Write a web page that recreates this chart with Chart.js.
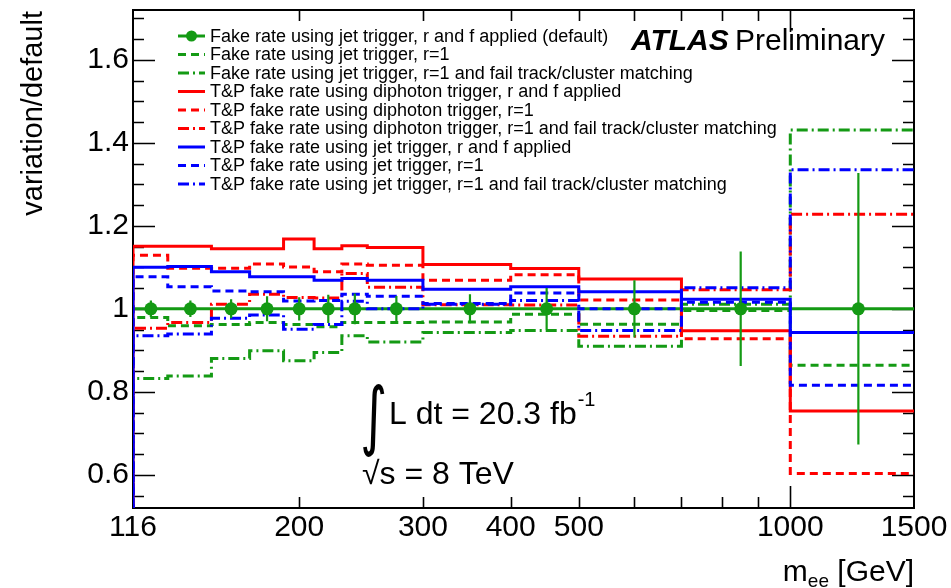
<!DOCTYPE html>
<html>
<head>
<meta charset="utf-8">
<script src="https://cdn.jsdelivr.net/npm/chart.js@4.4.1/dist/chart.umd.min.js"></script>
<style>
  html, body { margin: 0; background: #fff; }
  #wrap { width: 951px; height: 588px; position: relative; }
</style>
</head>
<body>
<div id="wrap"><canvas id="ratio"></canvas></div>
<script>
// bin edges and centres in m_ee [GeV]
const edges = [116, 130, 150, 170, 190, 210, 230, 250, 300, 400, 500, 700, 1000, 1500];
const binCenters = [123, 140, 160, 180, 200, 220, 240, 275, 350, 450, 600, 850, 1250];

// default fake rate (ratio to itself) and its uncertainty
const defaultRatio = [1, 1, 1, 1, 1, 1, 1, 1, 1, 1, 1, 1, 1];
const defaultErr = [0.02, 0.02, 0.023, 0.03, 0.028, 0.034, 0.037, 0.031, 0.035, 0.05, 0.069, 0.138, 0.327];

// variations / default
const jetR1 = [0.979, 0.959, 0.962, 0.967, 0.962, 0.957, 0.967, 0.967, 0.968, 0.987, 0.963, 0.996, 0.864];
const jetR1Fail = [0.832, 0.838, 0.880, 0.899, 0.875, 0.895, 0.935, 0.920, 0.943, 0.948, 0.910, 1.011, 1.431];
const tpDiphoton = [1.151, 1.151, 1.145, 1.145, 1.168, 1.145, 1.152, 1.148, 1.107, 1.097, 1.072, 0.947, 0.754];
const tpDiphotonR1 = [1.129, 1.098, 1.098, 1.108, 1.101, 1.089, 1.108, 1.105, 1.069, 1.082, 1.021, 0.928, 0.603];
const tpDiphotonR1Fail = [0.953, 0.967, 1.011, 1.035, 1.027, 1.026, 1.085, 1.052, 1.010, 1.009, 0.934, 1.046, 1.228];
const tpJet = [1.100, 1.102, 1.089, 1.077, 1.077, 1.069, 1.073, 1.069, 1.047, 1.053, 1.041, 1.023, 0.943];
const tpJetR1 = [1.077, 1.053, 1.043, 1.041, 1.019, 1.020, 1.035, 1.030, 1.013, 1.038, 1.000, 1.016, 0.816];
const tpJetR1Fail = [0.935, 0.939, 0.977, 0.985, 0.951, 0.962, 1.018, 1.000, 1.011, 1.020, 0.948, 1.051, 1.335];

const xTicks = [116, 200, 300, 400, 500, 1000, 1500];
const xMinorTicks = [200, 300, 400, 500, 600, 700, 800, 900];
const xMajorTicks = [1000];
const yTicks = [0.6, 0.8, 1, 1.2, 1.4, 1.6];

const legendLabels = [
  'Fake rate using jet trigger, r and f applied (default)',
  'Fake rate using jet trigger, r=1',
  'Fake rate using jet trigger, r=1 and fail track/cluster matching',
  'T&P fake rate using diphoton trigger, r and f applied',
  'T&P fake rate using diphoton trigger, r=1',
  'T&P fake rate using diphoton trigger, r=1 and fail track/cluster matching',
  'T&P fake rate using jet trigger, r and f applied',
  'T&P fake rate using jet trigger, r=1',
  'T&P fake rate using jet trigger, r=1 and fail track/cluster matching'
];

const GREEN = '#149a14', RED = '#ff0000', BLUE = '#0000ff';
const SOLID = [], DASH = [8, 5], DASHDOT = [11, 4, 2, 4];
const FONT = '"Liberation Sans", Arial, Helvetica, sans-serif';

const series = [
  { vals: jetR1, color: GREEN, dash: DASH },
  { vals: jetR1Fail, color: GREEN, dash: DASHDOT },
  { vals: tpDiphoton, color: RED, dash: SOLID },
  { vals: tpDiphotonR1, color: RED, dash: DASH },
  { vals: tpDiphotonR1Fail, color: RED, dash: DASHDOT },
  { vals: tpJet, color: BLUE, dash: SOLID },
  { vals: tpJetR1, color: BLUE, dash: DASH },
  { vals: tpJetR1Fail, color: BLUE, dash: DASHDOT }
];

// step histogram points; optional leading point below the frame like ROOT "hist"
function histPoints(vals, fromBottom) {
  const pts = fromBottom ? [{ x: edges[0], y: 0.3 }] : [];
  vals.forEach((v, i) => pts.push({ x: edges[i], y: v }));
  pts.push({ x: edges[edges.length - 1], y: vals[vals.length - 1] });
  return pts;
}

// later legend entries are drawn on top (lower order = on top in Chart.js)
const datasets = [];
datasets.push({
  label: legendLabels[0],
  data: binCenters.map((c, i) => ({ x: c, y: defaultRatio[i] })),
  showLine: false, pointRadius: 6.5, pointBackgroundColor: GREEN,
  pointBorderColor: GREEN, pointBorderWidth: 0, order: 0
});
series.forEach((s, i) => datasets.push({
  label: legendLabels[i + 1],
  data: histPoints(s.vals, true),
  borderColor: s.color, borderDash: s.dash, borderWidth: 3,
  stepped: true, pointRadius: 0, fill: false, order: 10 - i
}));
datasets.push({
  label: 'default line',
  data: histPoints(defaultRatio, false),
  borderColor: GREEN, borderWidth: 3, stepped: true, pointRadius: 0, order: 20
});

const framePlugin = {
  id: 'frame',
  beforeDatasetsDraw(chart) {
    const { ctx, chartArea: a, scales: { x, y } } = chart;
    ctx.save();
    ctx.strokeStyle = '#000';
    ctx.lineWidth = 2;
    ctx.strokeRect(a.left, a.top, a.right - a.left, a.bottom - a.top);
    ctx.lineWidth = 1.6;
    ctx.beginPath();
    for (let k = 11; k <= 34; k++) {
      const py = Math.round(y.getPixelForValue(k * 0.05)) + 0.5;
      const len = k % 4 === 0 ? 22 : 11;
      ctx.moveTo(a.left, py); ctx.lineTo(a.left + len, py);
      ctx.moveTo(a.right, py); ctx.lineTo(a.right - len, py);
    }
    const tick = (v, len) => {
      const px = Math.round(x.getPixelForValue(v)) + 0.5;
      ctx.moveTo(px, a.bottom); ctx.lineTo(px, a.bottom - len);
      ctx.moveTo(px, a.top); ctx.lineTo(px, a.top + len);
    };
    xMinorTicks.forEach(v => tick(v, 11));
    xMajorTicks.forEach(v => tick(v, 22));
    ctx.stroke();
    ctx.restore();
  }
};

const errorBarPlugin = {
  id: 'errbars',
  afterDatasetsDraw(chart) {
    const { ctx, scales: { y } } = chart;
    const meta = chart.getDatasetMeta(0);
    ctx.save();
    ctx.strokeStyle = GREEN;
    ctx.lineWidth = 2.2;
    ctx.beginPath();
    meta.data.forEach((pt, i) => {
      ctx.moveTo(pt.x, y.getPixelForValue(defaultRatio[i] + defaultErr[i]));
      ctx.lineTo(pt.x, y.getPixelForValue(defaultRatio[i] - defaultErr[i]));
    });
    ctx.stroke();
    ctx.restore();
  }
};

const textPlugin = {
  id: 'texts',
  afterDraw(chart) {
    const ctx = chart.ctx;
    ctx.save();
    ctx.fillStyle = '#000';

    // legend
    const lx0 = 178, lx1 = 205, tx = 210, ly0 = 36, dy = 18.5;
    ctx.font = '18px ' + FONT;
    ctx.textBaseline = 'middle';
    legendLabels.forEach((lab, i) => {
      const yy = ly0 + i * dy;
      const s = i === 0 ? { color: GREEN, dash: SOLID } : series[i - 1];
      ctx.strokeStyle = s.color;
      ctx.lineWidth = 3;
      ctx.setLineDash(s.dash);
      ctx.beginPath(); ctx.moveTo(lx0, yy); ctx.lineTo(lx1, yy); ctx.stroke();
      ctx.setLineDash([]);
      if (i === 0) {
        ctx.fillStyle = GREEN;
        ctx.beginPath(); ctx.arc((lx0 + lx1) / 2, yy, 5.5, 0, Math.PI * 2); ctx.fill();
      }
      ctx.fillStyle = '#000';
      ctx.fillText(lab, tx, yy + 1);
    });

    // ATLAS label
    ctx.textBaseline = 'alphabetic';
    ctx.font = 'italic bold 30px ' + FONT;
    ctx.fillText('ATLAS', 631, 50);
    ctx.font = '30px ' + FONT;
    ctx.fillText('Preliminary', 735, 50);

    // luminosity and energy
    ctx.save();
    ctx.font = '52px "DejaVu Sans", ' + FONT;
    ctx.translate(360, 441);
    ctx.scale(1, 1.45);
    ctx.fillText('\u222B', 0, 0);
    ctx.restore();
    ctx.font = '32px ' + FONT;
    ctx.fillText('L dt = 20.3 fb', 389, 424);
    const w1 = ctx.measureText('L dt = 20.3 fb').width;
    ctx.font = '20px ' + FONT;
    ctx.fillText('-1', 389 + w1 + 1, 406);
    ctx.font = '32px ' + FONT;
    ctx.fillText('\u221As = 8 TeV', 362, 484);

    // x title, right aligned to frame
    const right = chart.chartArea.right;
    ctx.font = '30px ' + FONT;
    const wGeV = ctx.measureText(' [GeV]').width;
    ctx.font = '19px ' + FONT;
    const wee = ctx.measureText('ee').width;
    ctx.font = '30px ' + FONT;
    const wm = ctx.measureText('m').width;
    const x0 = right - wGeV - wee - wm;
    ctx.fillText('m', x0, 581);
    ctx.fillText(' [GeV]', x0 + wm + wee, 581);
    ctx.font = '19px ' + FONT;
    ctx.fillText('ee', x0 + wm, 587);

    // y title, top aligned
    ctx.translate(42, 11);
    ctx.rotate(-Math.PI / 2);
    ctx.textAlign = 'right';
    ctx.font = '29px ' + FONT;
    ctx.fillText('variation/default', 0, 0);
    ctx.restore();
  }
};

new Chart(document.getElementById('ratio'), {
  type: 'line',
  data: { datasets },
  options: {
    responsive: true,
    maintainAspectRatio: false,
    animation: false,
    layout: { padding: { top: 10, right: 37, left: 0, bottom: 0 } },
    plugins: { legend: { display: false }, tooltip: { enabled: false } },
    scales: {
      x: {
        type: 'logarithmic', min: 116, max: 1500,
        grid: { display: false }, border: { display: false },
        afterBuildTicks: s => { s.ticks = xTicks.map(v => ({ value: v })); },
        afterFit: s => { s.height = 80; s.paddingLeft = 0; s.paddingRight = 0; },
        ticks: {
          autoSkip: false, maxRotation: 0, padding: -6, color: '#000',
          font: { family: FONT, size: 30 },
          callback: v => String(v)
        }
      },
      y: {
        type: 'linear', min: 0.52, max: 1.72,
        grid: { display: false }, border: { display: false },
        afterBuildTicks: s => { s.ticks = yTicks.map(v => ({ value: v })); },
        afterFit: s => { s.width = 133; s.paddingTop = 0; s.paddingBottom = 0; },
        ticks: {
          padding: -4, color: '#000',
          font: { family: FONT, size: 30 },
          callback: v => (v === 1 ? '1' : v.toFixed(1))
        }
      }
    }
  },
  plugins: [framePlugin, errorBarPlugin, textPlugin]
});
</script>
</body>
</html>
